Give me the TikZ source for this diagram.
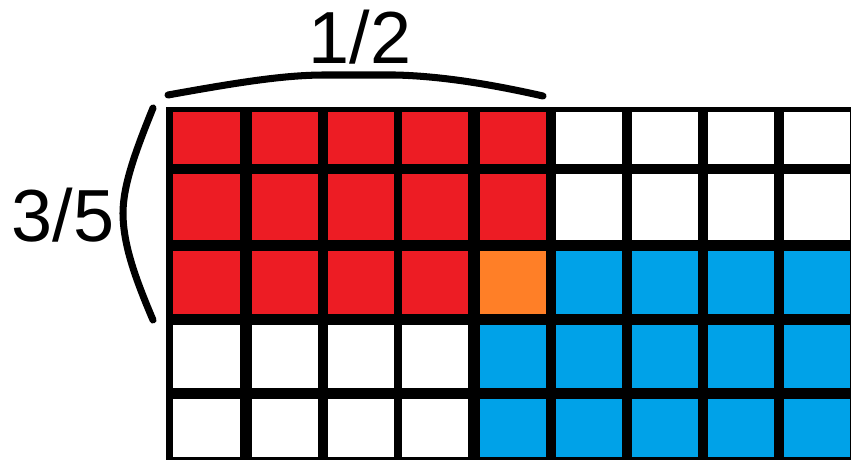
\documentclass[tikz,border=0pt]{standalone}
\usepackage{fontspec}
\setmainfont{Liberation Sans}
\usepackage{tikz}
\usetikzlibrary{positioning}
\definecolor{paintred}{HTML}{ED1C24}
\definecolor{paintorange}{HTML}{FF7F27}
\definecolor{paintblue}{HTML}{00A2E8}

\begin{document}
\begin{tikzpicture}[x=0.03cm, y=-0.03cm,
    brace/.style={line width=6pt, line cap=round, black},
    frac/.style={inner sep=0pt, font=\fontsize{63}{63}\selectfont}]
  \useasboundingbox (0,0) rectangle (851,460);
  % Grid
  \fill[black] (166,107) rectangle (851,462);
  \foreach \r/\t/\b in {1/112/164, 2/174/240, 3/251/314, 4/325/388, 5/399/457}
    \foreach \c/\l/\rt in {1/173/240, 2/252/318, 3/328/394, 4/402/468,
                           5/480/546, 6/556/622, 7/632/698, 8/708/774, 9/784/850} {
      \def\fillc{white}
      \ifnum\r<4 \ifnum\c<6 \def\fillc{paintred}\fi\fi
      \ifnum\r>2 \ifnum\c>5 \def\fillc{paintblue}\fi\fi
      \ifnum\r>3 \ifnum\c=5 \def\fillc{paintblue}\fi\fi
      \ifnum\r=3 \ifnum\c=5 \def\fillc{paintorange}\fi\fi
      \fill[\fillc] (\l,\t) rectangle (\rt,\b);
    }
  % Braces
  \draw[brace] (168,95) .. controls (240,82) and (285,75) .. (325,75)
    -- (395,75) .. controls (440,76) and (490,84) .. (543,96);
  \draw[brace] (153,108) .. controls (136,150) and (123,185) .. (123,213)
    .. controls (123,245) and (136,280) .. (153,320);
  % Labels
  \node[frac] (half) at (360,37) {1/2};
  \node[frac] (threefifths) at (63,215) {3/5};
\end{tikzpicture}
\end{document}
